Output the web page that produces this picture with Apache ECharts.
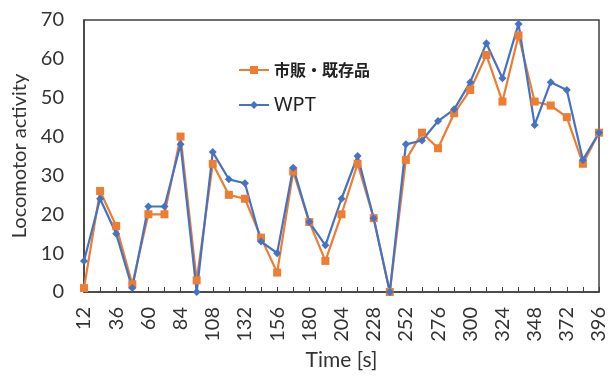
<!DOCTYPE html>
<html>
<head>
<meta charset="utf-8">
<script src="https://cdn.jsdelivr.net/npm/echarts@6/dist/echarts.min.js"></script>
<style>html,body{margin:0;padding:0;background:#fff;}#c{width:611px;height:376px;}</style>
</head>
<body>
<div id="c"></div>
<script>
const categories = ['12','24','36','48','60','72','84','96','108','120','132','144','156','168','180','192','204','216','228','240','252','264','276','288','300','312','324','336','348','360','372','384','396'];
const commercial = [1,26,17,2,20,20,40,3,33,25,24,14,5,31,18,8,20,33,19,0,34,41,37,46,52,61,49,66,49,48,45,33,41];
const wpt = [8,24,15,1,22,22,38,0,36,29,28,13,10,32,18,12,24,35,19,0,38,39,44,47,54,64,55,69,43,54,52,34,41];
const seriesNames = ['市販・既存品','WPT'];
const yTicks = {min:0, max:70, interval:10};

const font = 'Lato, "Noto Sans CJK JP", sans-serif';
const chart = echarts.init(document.getElementById('c'));
chart.setOption({
  animation:false,
  backgroundColor:'#fff',
  grid:{left:84, right:12, top:20, bottom:84, show:true, borderColor:'#404040', borderWidth:1.5},
  legend:[
    {data:[seriesNames[0]], left:233, top:57, itemWidth:30, itemHeight:10, itemGap:8,
     textStyle:{fontFamily:'"Noto Sans CJK JP", sans-serif', fontSize:16, fontWeight:'bold', color:'#222'}},
    {data:[seriesNames[1]], left:233, top:90, itemWidth:30, itemHeight:10, itemGap:4,
     textStyle:{fontFamily:'"Noto Sans", sans-serif', fontSize:20, color:'#222'}}
  ],
  xAxis:{
    type:'category', data:categories, boundaryGap:false,
    name:'Time [s]', nameLocation:'middle', nameGap:58,
    nameTextStyle:{fontFamily:font, fontSize:21, color:'#333'},
    axisLine:{lineStyle:{color:'#404040', width:1.5}},
    axisTick:{inside:true, length:5, interval:0, lineStyle:{color:'#404040'}},
    axisLabel:{interval:1, rotate:90, margin:15, fontFamily:font, fontSize:20, color:'#333'},
    splitLine:{show:false}
  },
  yAxis:{
    type:'value', min:yTicks.min, max:yTicks.max, interval:yTicks.interval,
    name:'Locomotor activity', nameLocation:'middle', nameGap:52,
    nameTextStyle:{fontFamily:font, fontSize:20, color:'#333'},
    axisLine:{show:true, lineStyle:{color:'#404040', width:1.5}},
    axisTick:{show:false},
    axisLabel:{margin:20, fontFamily:font, fontSize:20, color:'#333'},
    splitLine:{show:false}
  },
  series:[
    {name:seriesNames[0], type:'line', data:commercial, symbol:'rect', symbolSize:8,
     itemStyle:{color:'#ED7D31'}, lineStyle:{color:'#ED7D31', width:2.2}},
    {name:seriesNames[1], type:'line', data:wpt, symbol:'diamond', symbolSize:8,
     itemStyle:{color:'#4472C4'}, lineStyle:{color:'#4472C4', width:2.2}}
  ]
});
</script>
</body>
</html>
